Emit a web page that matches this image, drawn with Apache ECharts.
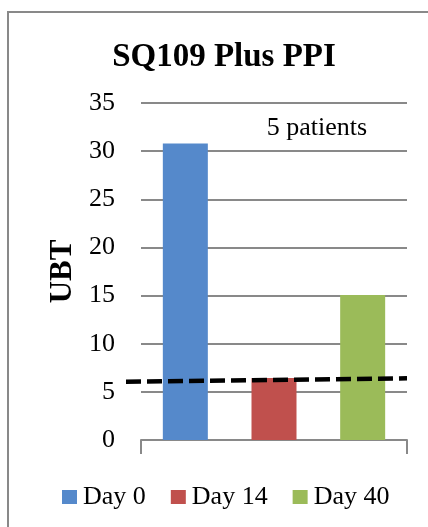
<!DOCTYPE html>
<html>
<head>
<meta charset="utf-8">
<script src="https://cdn.jsdelivr.net/npm/echarts@6/dist/echarts.min.js"></script>
<style>
html,body{margin:0;padding:0;background:#fff;}
#c{width:428px;height:527px;}
</style>
</head>
<body>
<div id="c"></div>
<script>
// ---- data ----
var categories = ['Day 0', 'Day 14', 'Day 40'];
var seriesNames = ['Day 0', 'Day 14', 'Day 40'];
var ubtValues = [30.8, 6.45, 15.05];
var thresholdX = [0, 1];
var thresholdY = [6.05, 6.41];
var yTicks = { min: 0, max: 35, interval: 5 };
var titleText = 'SQ109 Plus PPI';
var noteText = '5 patients';
var yName = 'UBT';

var colors = ['#5589CB', '#C0504D', '#9BBB59'];
var FONT = '"Liberation Serif", "Times New Roman", serif';

var barSeries = seriesNames.map(function (name, i) {
  var d = categories.map(function (c, j) { return j === i ? ubtValues[i] : '-'; });
  return {
    name: name,
    type: 'bar',
    stack: 'ubt',
    xAxisIndex: 0,
    yAxisIndex: 0,
    barWidth: 45,
    itemStyle: { color: colors[i] },
    data: d,
    z: 2
  };
});

var lineSeries = {
  name: 'threshold',
  type: 'line',
  xAxisIndex: 1,
  yAxisIndex: 1,
  symbol: 'none',
  silent: true,
  lineStyle: { color: '#000', width: 4.5, type: [15, 6] },
  data: thresholdX.map(function (x, i) { return [x, thresholdY[i]]; }),
  z: 5
};

var chart = echarts.init(document.getElementById('c'), null, { renderer: 'canvas' });
chart.setOption({
  animation: false,
  backgroundColor: '#fff',
  title: [
    {
      text: titleText,
      left: 219, top: 36, textAlign: 'center',
      textStyle: { fontFamily: FONT, fontWeight: 'bold', fontSize: 33, color: '#000' }
    },
    {
      text: noteText,
      left: 312, top: 110, textAlign: 'center',
      textStyle: { fontFamily: FONT, fontWeight: 'normal', fontSize: 26, color: '#000' }
    }
  ],
  legend: {
    data: seriesNames,
    left: 57, top: 479,
    itemWidth: 15, itemHeight: 14, itemGap: 25,
    icon: 'rect',
    textStyle: { fontFamily: FONT, fontSize: 26, color: '#000', padding: [0, 0, 0, 1] }
  },
  grid: [
    { left: 141, right: 21, top: 103, bottom: 87 },
    { left: 126, right: 21, top: 103, bottom: 87 }
  ],
  xAxis: [
    {
      type: 'category', gridIndex: 0, data: categories,
      axisLine: { show: true, lineStyle: { color: '#898989', width: 2 } },
      axisTick: { show: true, length: 14, interval: 3, lineStyle: { color: '#898989', width: 2 } },
      axisLabel: { show: false }
    },
    {
      type: 'value', gridIndex: 1, min: 0, max: 1, show: false
    }
  ],
  yAxis: [
    {
      type: 'value', gridIndex: 0,
      min: yTicks.min, max: yTicks.max, interval: yTicks.interval,
      name: yName, nameLocation: 'middle', nameRotate: 90, nameGap: 63,
      nameTextStyle: { fontFamily: FONT, fontWeight: 'bold', fontSize: 31, color: '#000' },
      axisLine: { show: false }, axisTick: { show: false },
      axisLabel: { margin: 26, fontFamily: FONT, fontSize: 26, color: '#000' },
      splitLine: { show: true, lineStyle: { color: '#898989', width: 2 } }
    },
    {
      type: 'value', gridIndex: 1, min: yTicks.min, max: yTicks.max, show: false
    }
  ],
  graphic: [
    {
      type: 'polyline', silent: true,
      shape: { points: [[8, 600], [8, 12], [600, 12]] },
      style: { fill: 'none', stroke: '#898989', lineWidth: 2 }
    }
  ],
  series: barSeries.concat([lineSeries])
});
</script>
</body>
</html>
